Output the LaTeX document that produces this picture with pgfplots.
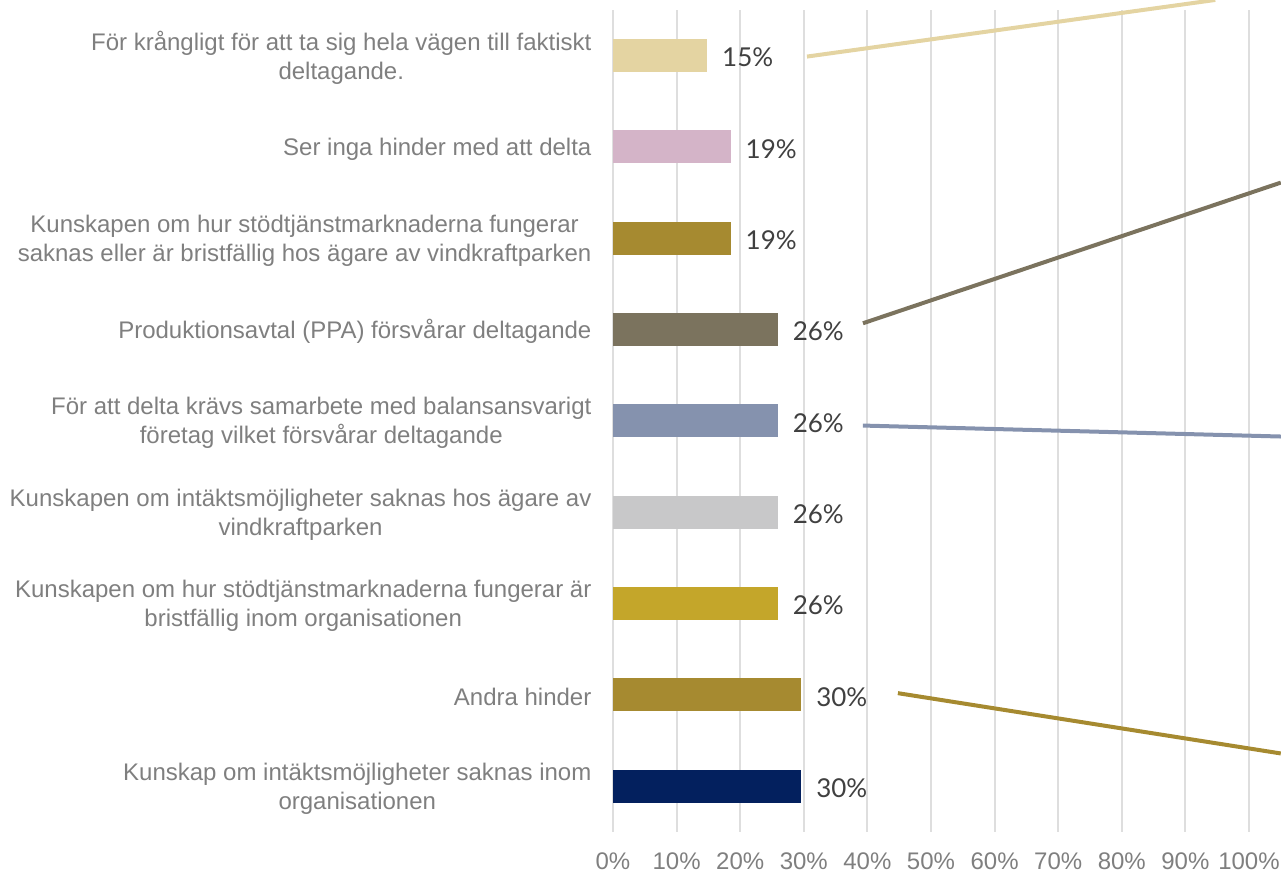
\documentclass[border=0pt]{standalone}
\usepackage{fontspec}
\setmainfont{Liberation Sans}
\newfontfamily\labelfont{Lato}
\usepackage{pgfplots}
\pgfplotsset{compat=1.18}

\definecolor{cNavy}{HTML}{03205E}
\definecolor{cGold}{HTML}{A68A30}
\definecolor{cMustard}{HTML}{C4A62A}
\definecolor{cLgray}{HTML}{C8C8C9}
\definecolor{cBlue}{HTML}{8592AE}
\definecolor{cBrown}{HTML}{7B735E}
\definecolor{cPink}{HTML}{D4B4C8}
\definecolor{cTan}{HTML}{E4D4A2}
\definecolor{txtgray}{HTML}{7F7F7F}
\definecolor{lblgray}{HTML}{404040}
\definecolor{gridgray}{HTML}{DEDEDE}

\begin{document}
\begin{tikzpicture}
\begin{axis}[
  scale only axis,
  width=318pt, height=411pt,
  xbar, bar width=16.5pt, bar shift=0pt,
  xmin=0, xmax=100, ymin=-0.5, ymax=8.5,
  clip=false,
  xtick={0,10,...,100},
  xticklabel={\pgfmathprintnumber{\tick}\%},
  /pgf/number format/assume math mode=true,
  xticklabel style={font=\fontsize{12}{14}\selectfont, text=txtgray, yshift=-7pt},
  ytick={0,...,8},
  yticklabels={
    {Kunskap om intäktsmöjligheter saknas inom\\organisationen},
    {Andra hinder},
    {Kunskapen om hur stödtjänstmarknaderna fungerar är\\bristfällig inom organisationen},
    {Kunskapen om intäktsmöjligheter saknas hos ägare av\\vindkraftparken},
    {För att delta krävs samarbete med balansansvarigt\\företag vilket försvårar deltagande},
    {Produktionsavtal (PPA) försvårar deltagande},
    {Kunskapen om hur stödtjänstmarknaderna fungerar \\saknas eller är bristfällig hos ägare av vindkraftparken},
    {Ser inga hinder med att delta},
    {För krångligt för att ta sig hela vägen till faktiskt\\deltagande.}
  },
  yticklabel style={font=\fontsize{12}{14.5}\selectfont, text=txtgray, align=center, xshift=-3pt, yshift=-1pt},
  axis line style={draw=none},
  tick style={draw=none},
  xmajorgrids,
  grid style={gridgray, line width=1pt},
  point meta=explicit symbolic,
  nodes near coords,
  every node near coord/.append style={font=\labelfont\fontsize{13}{15}\selectfont, text=lblgray, anchor=west, xshift=4pt, yshift=-1pt},
]
  % n = 27 respondents: 8/27, 7/27, 5/27, 4/27
  \addplot[fill=cNavy, draw=none] coordinates {(29.6,0) [30\%]};
  \addplot[fill=cGold, draw=none] coordinates {(29.6,1) [30\%]};
  \addplot[fill=cMustard, draw=none] coordinates {(25.9,2) [26\%]};
  \addplot[fill=cLgray, draw=none] coordinates {(25.9,3) [26\%]};
  \addplot[fill=cBlue, draw=none] coordinates {(25.9,4) [26\%]};
  \addplot[fill=cBrown, draw=none] coordinates {(25.9,5) [26\%]};
  \addplot[fill=cGold, draw=none] coordinates {(18.5,6) [19\%]};
  \addplot[fill=cPink, draw=none] coordinates {(18.5,7) [19\%]};
  \addplot[fill=cTan, draw=none] coordinates {(14.8,8) [15\%]};

  % stray leader lines of the data labels
  \addplot[sharp plot, cTan, line width=2pt, nodes near coords={}] coordinates {(30.5,7.99) (94.7,8.61)};
  \addplot[sharp plot, cBrown, line width=2pt, nodes near coords={}] coordinates {(39.3,5.07) (105,6.61)};
  \addplot[sharp plot, cBlue, line width=2pt, nodes near coords={}] coordinates {(39.3,3.95) (105,3.83)};
  \addplot[sharp plot, cGold, line width=2pt, nodes near coords={}] coordinates {(44.8,1.02) (105,0.36)};
\end{axis}
\pgfresetboundingbox
\path (-306.5pt,-20.5pt) rectangle (334pt,416pt);
\end{tikzpicture}
\end{document}
